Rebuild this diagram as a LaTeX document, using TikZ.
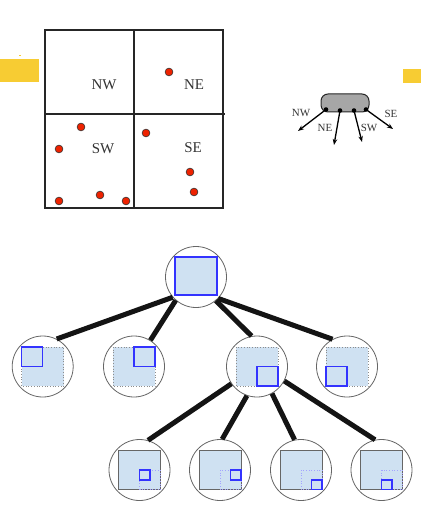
\documentclass[tikz,border=0pt]{standalone}
\usepackage{fontspec}
\setmainfont{Liberation Serif}
\usetikzlibrary{arrows.meta}
\definecolor{hl}{HTML}{F7CC33}
\definecolor{ptred}{HTML}{EE2200}
\definecolor{lblue}{HTML}{CFE1F2}
\definecolor{qblue}{HTML}{3333FF}
\definecolor{txt}{HTML}{333333}
\definecolor{boxgray}{HTML}{A6A6A6}
\tikzset{
  qline/.style={line width=1.3bp, draw=black!85},
  qlabel/.style={font=\fontsize{15}{18}\selectfont, text=txt, inner sep=0pt},
  slabel/.style={font=\fontsize{11}{13}\selectfont, text=txt, inner sep=0pt},
  dot/.style={fill=ptred, draw=black!80, line width=0.6bp},
  rbox/.style={draw=black!85, line width=1bp, fill=boxgray, rounded corners=7bp, minimum width=48bp, minimum height=18bp, inner sep=0pt},
  arr/.style={line width=1.3bp, -{Stealth[length=6bp,width=4.5bp]}},
  tnode/.style={circle, draw=black!60, line width=0.8bp, minimum size=61bp, inner sep=0pt},
  edge/.style={line width=5bp, draw=black!92},
  sq1/.style={fill=lblue, draw=black!45, dotted, line width=0.7bp},
  sq2/.style={fill=lblue, draw=black!60, line width=0.9bp},
  bsq/.style={draw=qblue, line width=1.5bp},
  qd/.style={draw=qblue!45, dotted, line width=0.7bp}
}
\begin{document}
\begin{tikzpicture}[x=1bp,y=-1bp]
\useasboundingbox (0,0) rectangle (421,517);
% highlight marks
\fill[hl] (0,59) rectangle (39,82);
\fill[hl] (19,55.5) rectangle (21,56.5);
\fill[hl] (403,69) rectangle (421,83);
% quadtree region
\draw[qline] (45,30) rectangle (223,208);
\draw[qline, line width=1.8bp] (134,30) -- (134,208);
\draw[qline, line width=1.8bp] (45,114) -- (225,114);
\node[qlabel] (lNW) at (104,85) {NW};
\node[qlabel] (lNE) at (194,85) {NE};
\node[qlabel] (lSW) at (103,149) {SW};
\node[qlabel] (lSE) at (193,148) {SE};
\foreach \x/\y in {169/72, 81/127, 59/149, 59/201, 100/195, 126/201, 146/133, 190/172, 194/192}
  \draw[dot] (\x,\y) circle (3.9bp);
% small node with four children pointers
\node[rbox] (rb) at (345,103) {};
\coordinate (p1) at (326,109.5);
\coordinate (p2) at (340,110.5);
\coordinate (p3) at (354,110.5);
\coordinate (p4) at (366,109.5);
\coordinate (e1) at (298,131);
\coordinate (e2) at (334,145);
\coordinate (e3) at (362,142);
\coordinate (e4) at (393,129);
\foreach \i in {1,2,3,4} {
  \draw[arr] (p\i) -- (e\i);
  \fill (p\i) circle (2.3bp);
}
\node[slabel] (sNW) at (301,113) {NW};
\node[slabel] (sNE) at (325,128) {NE};
\node[slabel] (sSW) at (369,128) {SW};
\node[slabel] (sSE) at (391,114) {SE};
% tree
\node[tnode] (root) at (196,277) {};
\node[tnode] (c1) at (42.7,366.5) {};
\node[tnode] (c2) at (134,366.5) {};
\node[tnode] (c3) at (257,366.5) {};
\node[tnode] (c4) at (347,366.5) {};
\node[tnode] (c5) at (139.5,470) {};
\node[tnode] (c6) at (220,470) {};
\node[tnode] (c7) at (301,470) {};
\node[tnode] (c8) at (381.5,470) {};
\draw[edge] (root.221) -- (c1.63);
\draw[edge] (root.229) -- (c2.58);
\draw[edge] (root.310) -- (c3.100);
\draw[edge] (root.316) -- (c4.118);
\draw[edge] (c3.214) -- (c5.74);
\draw[edge] (c3.251) -- (c6.86);
\draw[edge] (c3.299) -- (c7.102);
\draw[edge] (c3.332) -- (c8.102);
% root square
\fill[lblue] (175,257) rectangle (217,295);
\draw[bsq] (175,257) rectangle (217,295);
% level 1 squares
\foreach \n/\qx/\qy in {c1/-21/-19.5, c2/0/-19.5, c3/0/0, c4/-21/0} {
  \path (\n) ++(-21,-19.5) coordinate (a) ++(42,39) coordinate (b);
  \draw[sq1] (a) rectangle (b);
  \path (\n) ++(\qx,\qy) coordinate (q) ++(21,19.5) coordinate (r);
  \draw[bsq] (q) rectangle (r);
}
% level 2 squares
\foreach \n/\qx/\qy in {c5/0/0, c6/10.5/0, c7/10.5/9.75, c8/0/9.75} {
  \path (\n) ++(-21,-19.5) coordinate (a) ++(42,39) coordinate (b);
  \draw[sq2] (a) rectangle (b);
  \path (\n) coordinate (m) ++(21,19.5) coordinate (mm);
  \draw[qd] (m) rectangle (mm);
  \path (\n) ++(\qx,\qy) coordinate (q) ++(10.5,9.75) coordinate (r);
  \draw[bsq] (q) rectangle (r);
}
\end{tikzpicture}
\end{document}
